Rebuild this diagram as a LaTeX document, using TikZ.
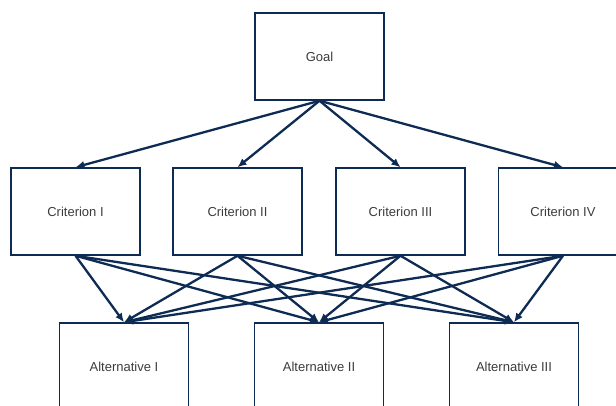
\documentclass[tikz,border=0pt]{standalone}
\usepackage{fontspec}
\setmainfont{Liberation Sans}
\usetikzlibrary{arrows.meta}
\definecolor{LineNavy}{RGB}{14,43,84}
\definecolor{TextGray}{RGB}{60,60,60}

\begin{document}
\begin{tikzpicture}[
  x=1pt, y=-1pt,
  box/.style={
    rectangle,
    draw=LineNavy,
    line width=1.5pt,
    fill=white,
    minimum width=129pt,
    minimum height=87pt,
    align=center,
    text=TextGray,
    font=\fontsize{13}{15}\selectfont
  },
  arrow/.style={-{Latex[length=9pt,width=8pt]}, line width=2.3pt, draw=LineNavy}
]

  \useasboundingbox (0,0) rectangle (616,405);
  \clip (0,0) rectangle (616,405);

  \node[box] (goal) at (319.5,56.5) {Goal};

  \node[box] (crit1) at (75.5,211.5)  {Criterion I};
  \node[box] (crit2) at (237.5,211.5) {Criterion II};
  \node[box] (crit3) at (400.5,211.5) {Criterion III};
  \node[box] (crit4) at (563,211.5)   {Criterion IV};

  \node[box] (alt1) at (124,366.5) {Alternative I};
  \node[box] (alt2) at (319,366.5) {Alternative II};
  \node[box] (alt3) at (514,366.5) {Alternative III};

  \draw[arrow] (goal.south) -- (crit1.north);
  \draw[arrow] (goal.south) -- (crit2.north);
  \draw[arrow] (goal.south) -- (crit3.north);
  \draw[arrow] (goal.south) -- (crit4.north);

  \draw[arrow] (crit1.south) -- (alt1.north);
  \draw[arrow] (crit1.south) -- (alt2.north);
  \draw[arrow] (crit1.south) -- (alt3.north);
  \draw[arrow] (crit2.south) -- (alt1.north);
  \draw[arrow] (crit2.south) -- (alt2.north);
  \draw[arrow] (crit2.south) -- (alt3.north);
  \draw[arrow] (crit3.south) -- (alt1.north);
  \draw[arrow] (crit3.south) -- (alt2.north);
  \draw[arrow] (crit3.south) -- (alt3.north);
  \draw[arrow] (crit4.south) -- (alt1.north);
  \draw[arrow] (crit4.south) -- (alt2.north);
  \draw[arrow] (crit4.south) -- (alt3.north);

\end{tikzpicture}
\end{document}
